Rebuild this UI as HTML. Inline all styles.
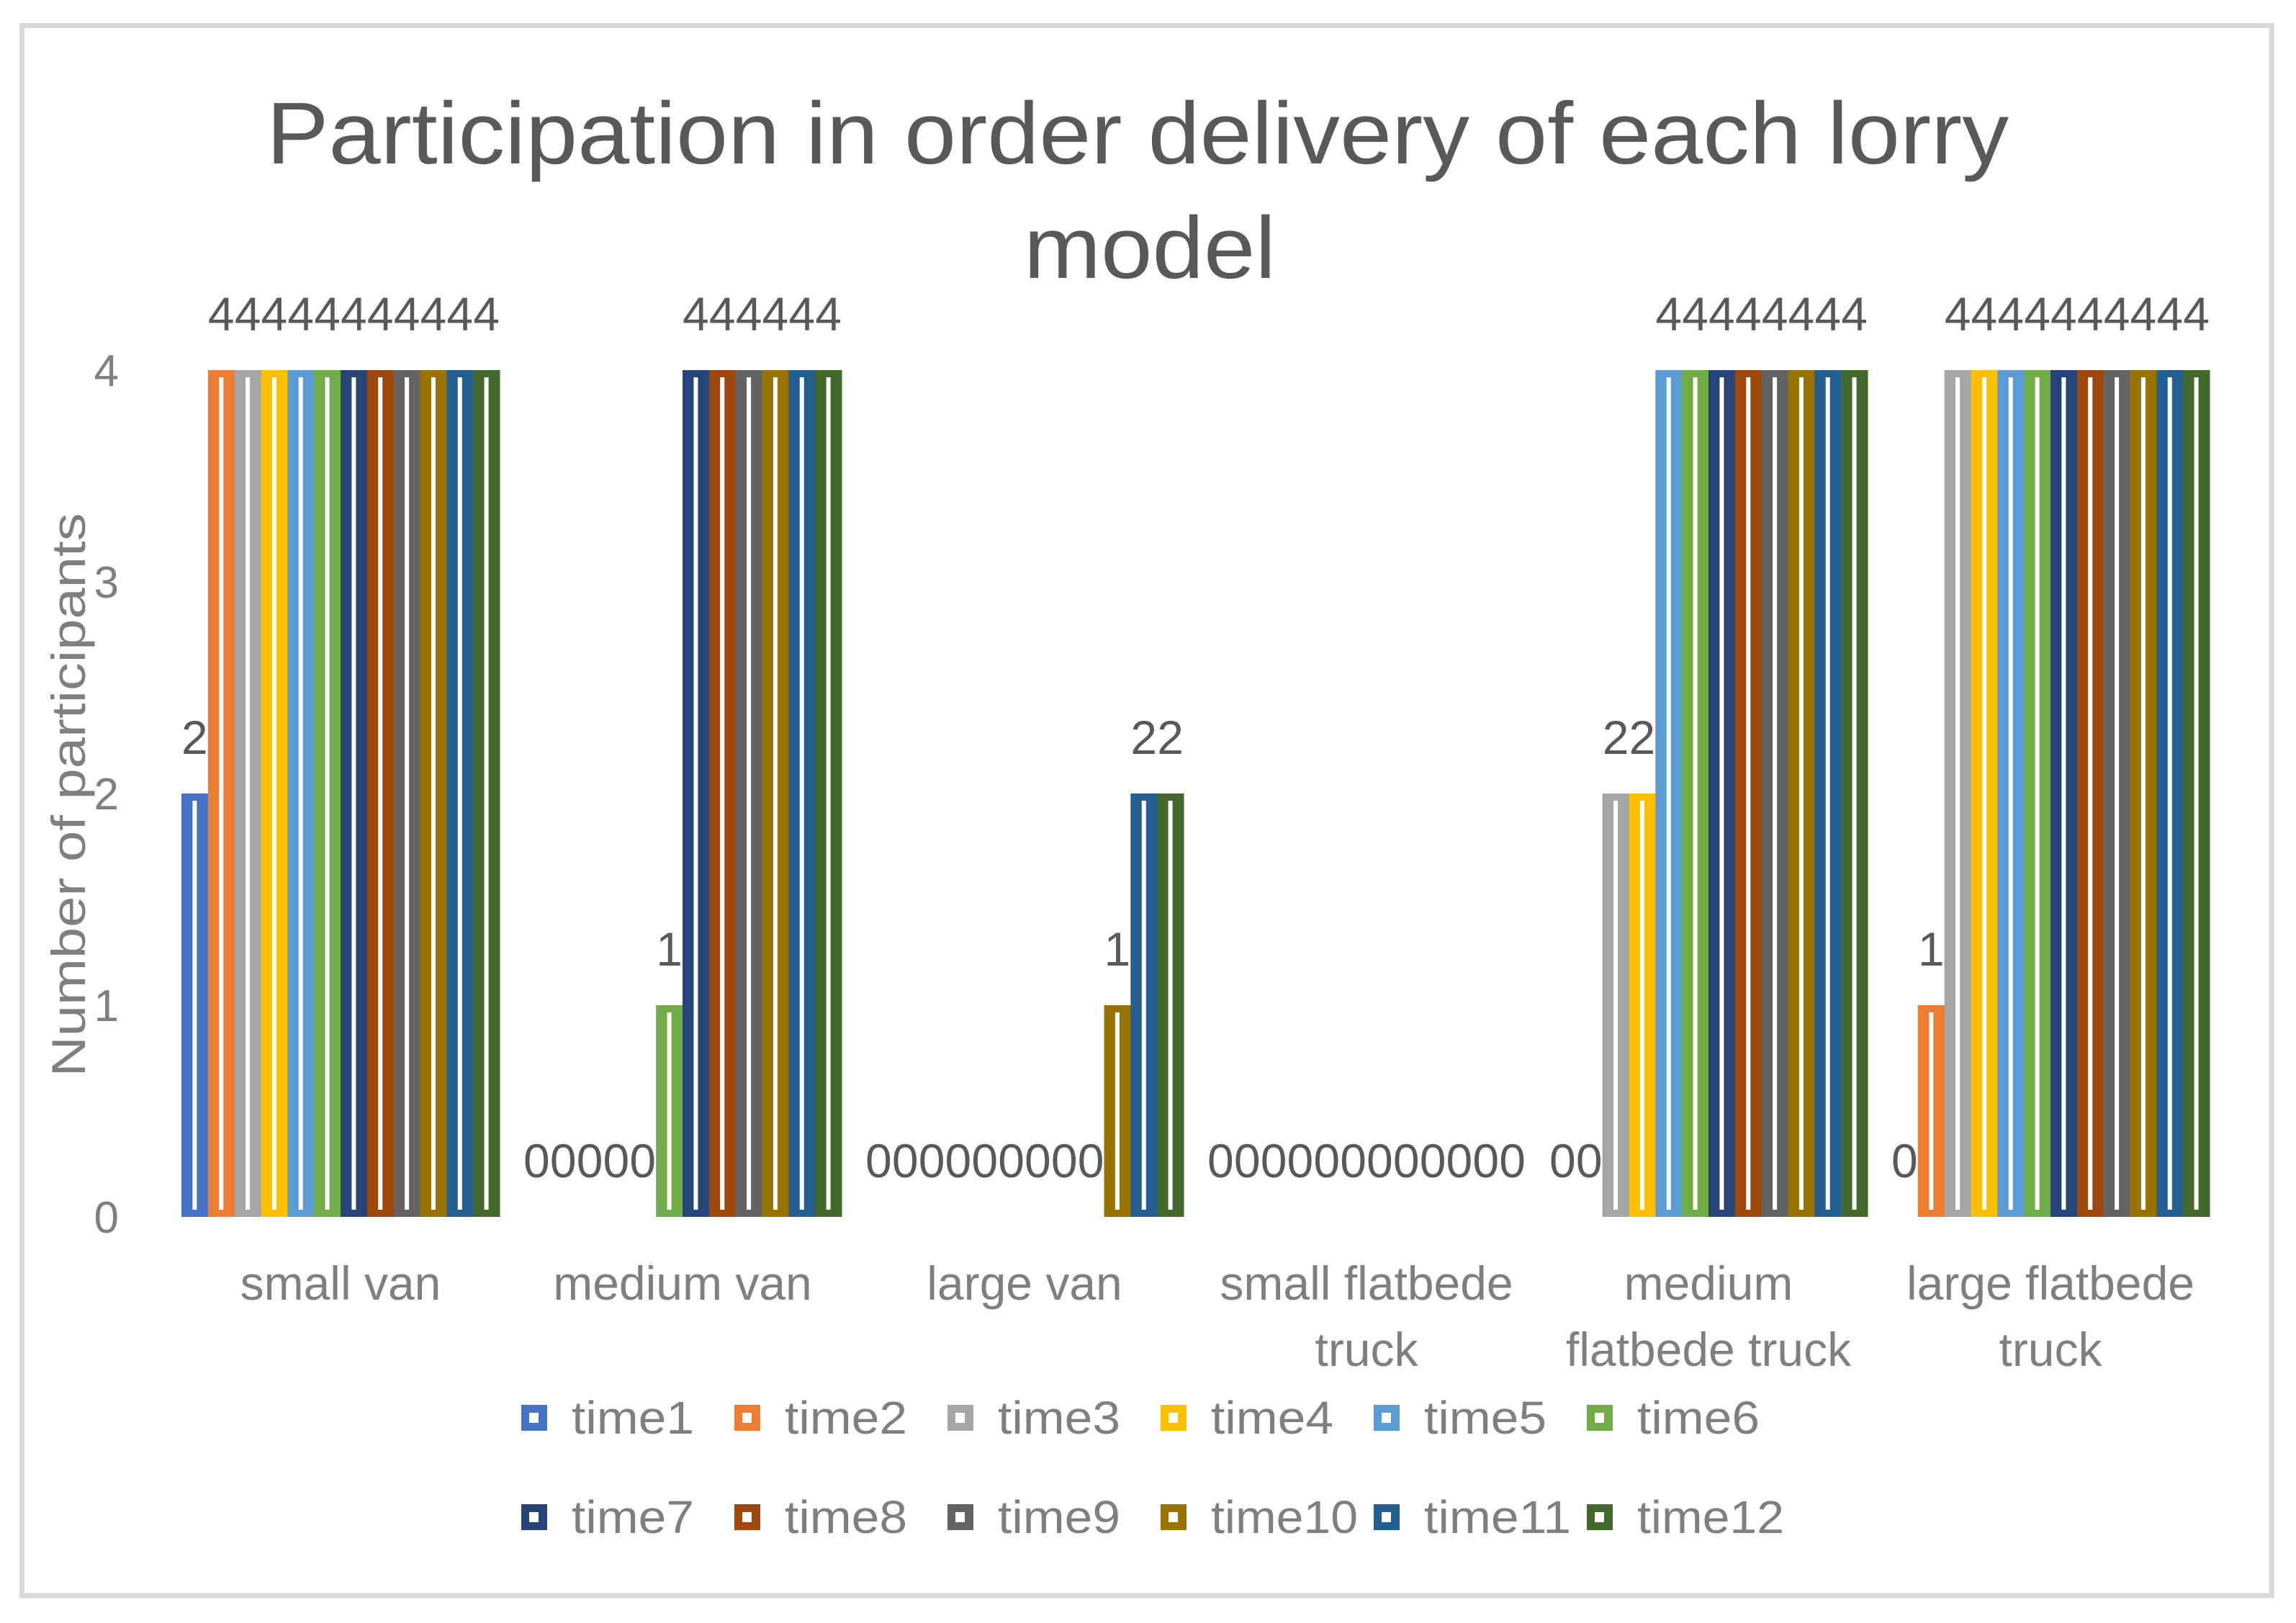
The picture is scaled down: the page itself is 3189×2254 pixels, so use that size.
<!DOCTYPE html>
<html><head><meta charset="utf-8"><style>
html,body{margin:0;padding:0;background:#fff;}
svg{display:block;font-family:"Liberation Sans",sans-serif;}
</style></head><body>
<svg id="chart" width="3189" height="2254" viewBox="0 0 3189 2254" xmlns="http://www.w3.org/2000/svg">
<rect x="30.5" y="35.5" width="3124.5" height="2180.5" fill="#fff" stroke="#d9d9d9" stroke-width="7"/>
<text fill="#595959" font-size="122" text-anchor="middle">
<tspan x="1597" y="227" textLength="2420" lengthAdjust="spacingAndGlyphs">Participation in order delivery of each lorry</tspan>
<tspan x="1597" y="386" textLength="350" lengthAdjust="spacingAndGlyphs">model</tspan>
</text>
<text fill="#7f7f7f" font-size="66" text-anchor="middle" transform="translate(118,1104) rotate(-90)" textLength="783" lengthAdjust="spacingAndGlyphs">Number of participants</text>
<g id="yticks"></g>
<g id="bars"></g>
<g id="labels"></g>
<g id="cats"></g>
<g id="legend"></g>
</svg>
<script>
const categories = [["small van"],["medium van"],["large van"],["small flatbede","truck"],["medium","flatbede truck"],["large flatbede","truck"]];
const seriesNames = ["time1","time2","time3","time4","time5","time6","time7","time8","time9","time10","time11","time12"];
const colors = ["#4472c4","#ed7d31","#a5a5a5","#ffc000","#5b9bd5","#70ad47","#264478","#9e480e","#636363","#997300","#255e91","#43682b"];
const smallVan = [2,4,4,4,4,4,4,4,4,4,4,4];
const mediumVan = [0,0,0,0,0,1,4,4,4,4,4,4];
const largeVan = [0,0,0,0,0,0,0,0,0,1,2,2];
const smallFlatbed = [0,0,0,0,0,0,0,0,0,0,0,0];
const mediumFlatbed = [0,0,2,2,4,4,4,4,4,4,4,4];
const largeFlatbed = [0,1,4,4,4,4,4,4,4,4,4,4];
const yTicks = [0,1,2,3,4];

const NS = "http://www.w3.org/2000/svg";
const values = [smallVan, mediumVan, largeVan, smallFlatbed, mediumFlatbed, largeFlatbed];
const plotL = 235.5, band = 475, y0 = 1690, y4 = 514, yMax = 4;
const gapW = 33, barW = (band - gapW) / seriesNames.length;
function yPos(v){ return y0 - (y0 - y4) * v / yMax; }
function xPos(c, s){ return plotL + c * band + gapW / 2 + s * barW; }
function mk(tag, attrs, parent){ const e = document.createElementNS(NS, tag); for (const k in attrs) e.setAttribute(k, attrs[k]); parent.appendChild(e); return e; }

const yt = document.getElementById('yticks');
yTicks.forEach(t => {
  const e = mk('text', {x:165, y:yPos(t)+22, 'font-size':62, fill:'#7f7f7f', 'text-anchor':'end'}, yt);
  
  
  e.textContent = t;
});

const bars = document.getElementById('bars');
const labels = document.getElementById('labels');
values.forEach((arr, c) => {
  arr.forEach((v, s) => {
    const x = xPos(c, s), y = yPos(v), h = y0 - y;
    if (h > 0) {
      const r = mk('rect', {x:x, y:y, width:barW+0.5, height:h, fill:colors[s]}, bars);
      
      
      if (h > 22) {
        const w = mk('rect', {x:x+barW/2-3, y:y+10, width:6, height:h-20, fill:'#fff'}, bars);
        
        
      }
    }
    const t = mk('text', {x:x+barW/2, y:y-55, 'font-size':66, fill:'#595959', 'text-anchor':'middle'}, labels);
    
    
    t.textContent = v;
  });
});

const cats = document.getElementById('cats');
categories.forEach((lines, c) => {
  const cx = plotL + c * band + band / 2;
  lines.forEach((ln, i) => {
    const t = mk('text', {x:cx, y:1805 + i*92, 'font-size':66, fill:'#7f7f7f', 'text-anchor':'middle'}, cats);
    
    
    t.textContent = ln;
  });
});

const lg = document.getElementById('legend');
seriesNames.forEach((n, i) => {
  const col = i % 6, row = Math.floor(i / 6);
  const x = 724 + col * 296, cy = 1969 + row * 138;
  const g = mk('g', {}, lg);
  
  
  mk('rect', {x:x, y:cy-18, width:36, height:36, fill:colors[i]}, g);
  mk('rect', {x:x+11, y:cy-7, width:13, height:14, fill:'#fff'}, g);
  const t = mk('text', {x:x+70, y:cy+22, 'font-size':64, fill:'#7f7f7f', textLength: n.length*34, lengthAdjust:'spacingAndGlyphs'}, g);
  t.textContent = n;
});
</script>
</body></html>
